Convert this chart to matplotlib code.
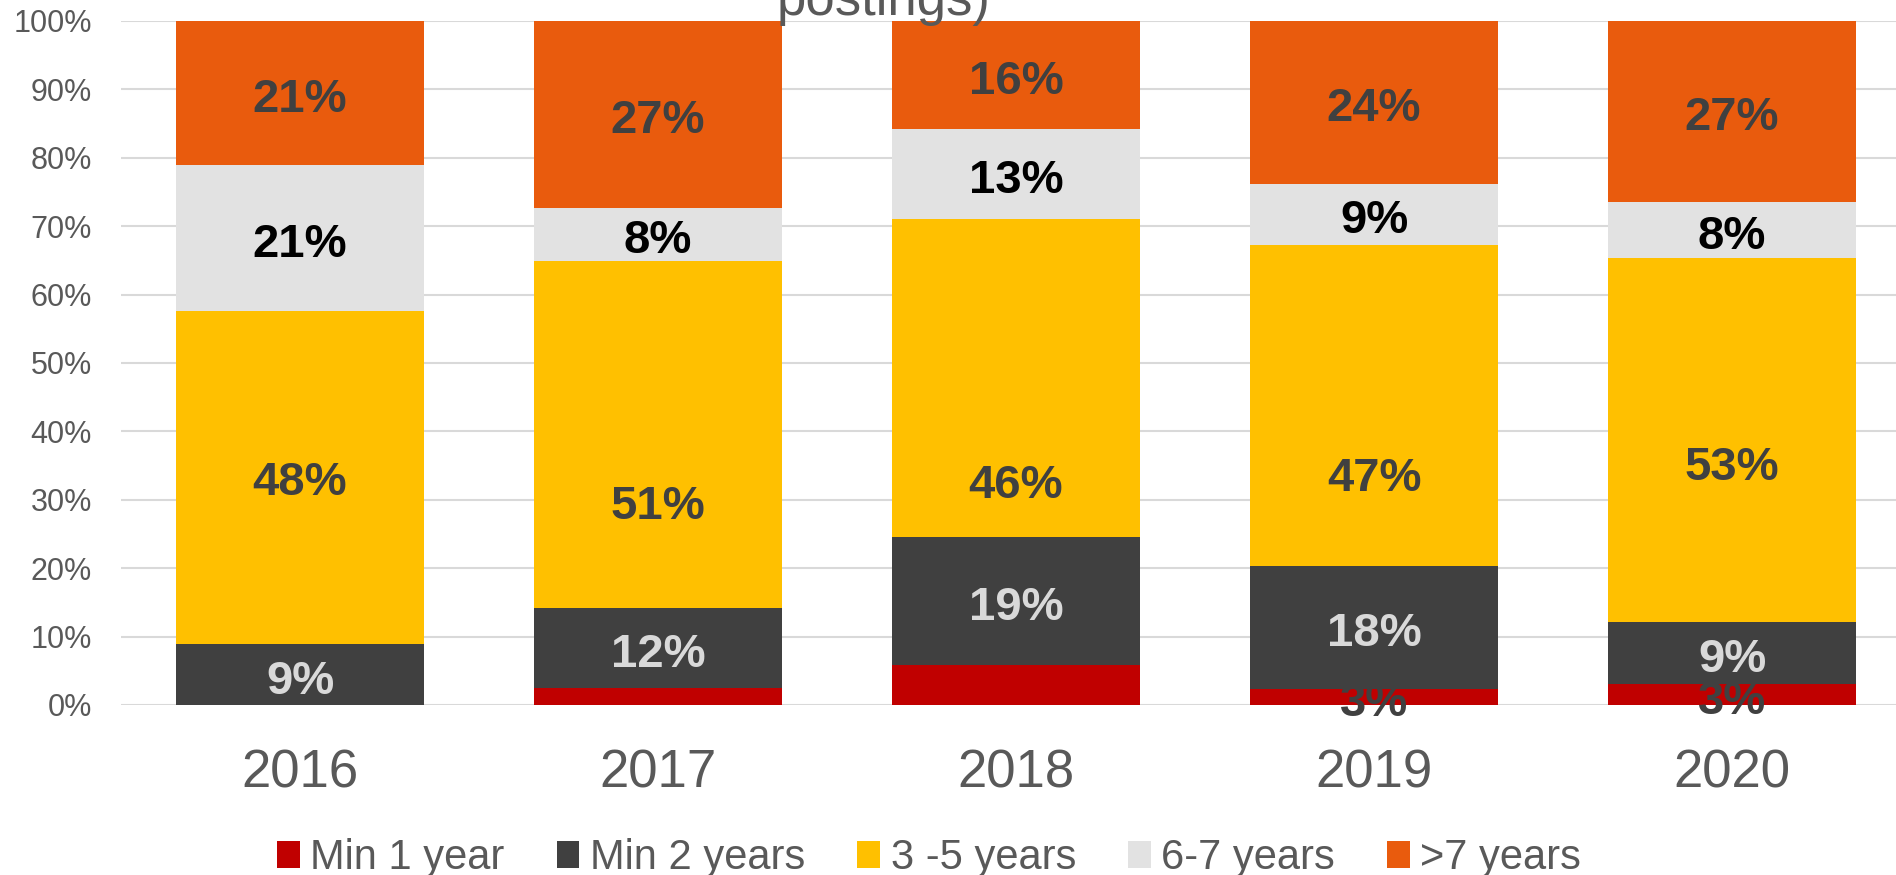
import matplotlib.pyplot as plt
import numpy as np

years = ["2016", "2017", "2018", "2019", "2020"]
series_names = ["Min 1 year", "Min 2 years", "3 -5 years", "6-7 years", ">7 years"]

min1 = [0.0, 2.5, 5.9, 2.4, 3.0]
min2 = [8.9, 11.7, 18.6, 17.9, 9.2]
y3_5 = [48.7, 50.7, 46.6, 47.0, 53.2]
y6_7 = [21.3, 7.8, 13.1, 8.9, 8.2]
y7plus = [21.1, 27.3, 15.8, 23.8, 26.4]

# data labels as shown on the chart (blank where no label is shown)
min1_labels = ["", "", "", "3%", "3%"]
min2_labels = ["9%", "12%", "19%", "18%", "9%"]
y3_5_labels = ["48%", "51%", "46%", "47%", "53%"]
y6_7_labels = ["21%", "8%", "13%", "9%", "8%"]
y7plus_labels = ["21%", "27%", "16%", "24%", "27%"]

colors = ["#C00000", "#404040", "#FFC000", "#E2E2E2", "#E95B0D"]
label_colors = ["#404040", "#D9D9D9", "#404040", "#000000", "#404040"]

# the "3 -5 years" labels sit where they were dragged to, not in the segment centre
YELLOW_LABEL_Y = [33.4, 30.0, 33.0, 34.1, 35.7]


def plot() -> None:
    plt.rcParams["font.family"] = ["Liberation Sans", "DejaVu Sans"]
    fig = plt.figure(figsize=(18.96, 8.75), dpi=100)
    ax = fig.add_axes([121 / 1896, 170 / 875, 1790 / 1896, 684 / 875])

    values = [min1, min2, y3_5, y6_7, y7plus]
    labels = [min1_labels, min2_labels, y3_5_labels, y6_7_labels, y7plus_labels]
    x = np.arange(len(years))
    bottom = np.zeros(len(years))
    for i, (vals, lbls, name, col, lcol) in enumerate(
            zip(values, labels, series_names, colors, label_colors)):
        vals = np.array(vals)
        ax.bar(x, vals, 0.69, bottom=bottom, color=col, label=name, zorder=2)
        ypos = YELLOW_LABEL_Y if i == 2 else bottom + vals / 2
        for xi, yi, txt in zip(x, ypos, lbls):
            if txt:
                ax.annotate(txt, (xi, yi), xytext=(0, -5), textcoords="offset points",
                            ha="center", va="center", color=lcol, fontsize=34,
                            fontweight="bold", zorder=3)
        bottom += vals

    ax.set_xlim(-0.5, 4.5)
    ax.set_ylim(0, 100)
    ax.set_yticks(np.arange(0, 101, 10))
    ax.set_yticklabels([f"{v}%" for v in range(0, 101, 10)])
    ax.set_xticks(x)
    ax.set_xticklabels(years)
    ax.tick_params(axis="y", length=0, pad=21, labelsize=22, labelcolor="#595959")
    ax.tick_params(axis="x", length=0, pad=31, labelsize=38, labelcolor="#595959")
    ax.grid(axis="y", color="#D9D9D9", linewidth=1.5, zorder=0)
    for s in ax.spines.values():
        s.set_visible(False)
    ax.patch.set_alpha(0)

    fig.text(0.466, 1 - 15 / 875, "postings)", ha="center", va="baseline",
             fontsize=38, color="#595959")

    fig.legend(loc="center", bbox_to_anchor=(0.49, 0.019), ncol=5, frameon=False,
               fontsize=30, labelcolor="#595959", handlelength=0.55, handleheight=0.6,
               handletextpad=0.25, columnspacing=1.25)

    fig.savefig("out.png", dpi=100)
    return


def main() -> None:
    plot()
    return


if __name__ == "__main__":
    main()
